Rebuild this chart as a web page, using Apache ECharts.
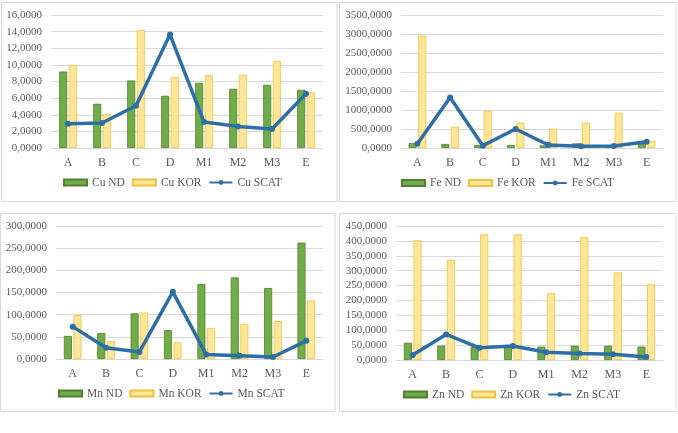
<!DOCTYPE html>
<html><head><meta charset="utf-8">
<script src="https://cdn.jsdelivr.net/npm/echarts@6/dist/echarts.min.js"></script>
<style>html,body{margin:0;padding:0;background:#fff}#c{width:678px;height:433px}</style>
</head><body><div id="c"></div>
<script>
const categories = ['A','B','C','D','M1','M2','M3','E'];
const cuND   = [9.2, 5.32, 8.12, 6.28, 7.84, 7.12, 7.6, 7.0];
const cuKOR  = [10.0, 4.12, 14.2, 8.56, 8.8, 8.8, 10.48, 6.68];
const cuSCAT = [2.92, 3.0, 5.08, 13.64, 3.12, 2.6, 2.28, 6.52];
const feND   = [131, 105, 79, 79, 70, 122, 61, 114];
const feKOR  = [2957, 560, 980, 665, 507, 665, 927, 192];
const feSCAT = [114, 1330, 61, 499, 79, 44, 52, 166];
const mnND   = [52, 58.5, 103, 65, 169, 184, 160, 262.5];
const mnKOR  = [99, 40.5, 105, 37.5, 70, 79, 85.5, 132];
const mnSCAT = [73, 25.5, 16, 151.5, 10, 7.5, 4.5, 41];
const znND   = [58, 48, 44, 44, 45, 48, 48, 45];
const znKOR  = [402, 337, 422, 422, 224, 412, 294, 254];
const znSCAT = [17, 86, 41, 47, 26, 22, 19, 10];
const yMax      = [16, 3500, 300, 450];
const yInterval = [2, 500, 50, 50];
const elements  = ['Cu', 'Fe', 'Mn', 'Zn'];

const panels = [
  {nd: cuND, kor: cuKOR, scat: cuSCAT},
  {nd: feND, kor: feKOR, scat: feSCAT},
  {nd: mnND, kor: mnKOR, scat: mnSCAT},
  {nd: znND, kor: znKOR, scat: znSCAT}
];
const grids = [
  {left: 51, top: 15, width: 272, height: 133},
  {left: 401, top: 15, width: 262, height: 133},
  {left: 56, top: 226, width: 267, height: 133},
  {left: 396, top: 226, width: 267, height: 134}
];
const legendPos = [{left: 63, top: 176.5}, {left: 401, top: 177}, {left: 58, top: 387.5}, {left: 403, top: 388.5}];
const boxes = [
  {x: 1.5, y: 2.5, width: 335.5, height: 199},
  {x: 339.5, y: 2.5, width: 336.5, height: 199},
  {x: 0.5, y: 213.5, width: 334.5, height: 198},
  {x: 339.5, y: 213.5, width: 336.5, height: 198}
];
const FONT = '"Liberation Serif", "Times New Roman", serif';
const TXT = '#595959';
const fmt = v => v.toFixed(4).replace('.', ',');

const option = {
  animation: false,
  backgroundColor: '#fff',
  grid: grids.map(g => Object.assign({containLabel: false}, g)),
  xAxis: grids.map((g, i) => ({
    type: 'category', gridIndex: i, data: categories,
    axisLine: {lineStyle: {color: '#d9d9d9', width: 1}},
    axisTick: {show: false},
    axisLabel: {color: TXT, fontFamily: FONT, fontSize: 12, margin: 9}
  })),
  yAxis: grids.map((g, i) => ({
    type: 'value', gridIndex: i, min: 0, max: yMax[i], interval: yInterval[i],
    axisLine: {show: false}, axisTick: {show: false},
    splitLine: {lineStyle: {color: '#d9d9d9', width: 1}},
    axisLabel: {color: TXT, fontFamily: FONT, fontSize: 11, margin: 9, formatter: fmt}
  })),
  legend: elements.map((el, i) => ({
    left: legendPos[i].left, top: legendPos[i].top, padding: 0,
    orient: 'horizontal', itemWidth: 23, itemHeight: 6, itemGap: 7,
    textStyle: {color: TXT, fontFamily: FONT, fontSize: 11.5},
    data: [
      {name: el + ' ND', icon: 'rect'},
      {name: el + ' KOR', icon: 'rect'},
      {name: el + ' SCAT'}
    ]
  })),
  graphic: boxes.map(b => ({
    type: 'rect', shape: b, silent: true, z: -1,
    style: {fill: 'none', stroke: '#d9d9d9', lineWidth: 1}
  })),
  series: []
};

elements.forEach((el, i) => {
  const p = panels[i];
  option.series.push({
    name: el + ' ND', type: 'bar', xAxisIndex: i, yAxisIndex: i,
    data: p.nd, barWidth: 8, barGap: '20%',
    itemStyle: {color: '#70AD47', borderColor: '#507E32', borderWidth: 0.8}
  });
  option.series.push({
    name: el + ' KOR', type: 'bar', xAxisIndex: i, yAxisIndex: i,
    data: p.kor, barWidth: 8, barGap: '20%',
    itemStyle: {color: '#FFE699', borderColor: '#EDC13C', borderWidth: 0.8}
  });
  option.series.push({
    name: el + ' SCAT', type: 'line', xAxisIndex: i, yAxisIndex: i,
    data: p.scat, symbol: 'circle', symbolSize: 6, z: 5,
    lineStyle: {color: '#2E6EA6', width: 3.5},
    itemStyle: {color: '#2E6EA6'}
  });
});

const chart = echarts.init(document.getElementById('c'), null, {renderer: 'canvas'});
chart.setOption(option);
</script>
</body></html>
